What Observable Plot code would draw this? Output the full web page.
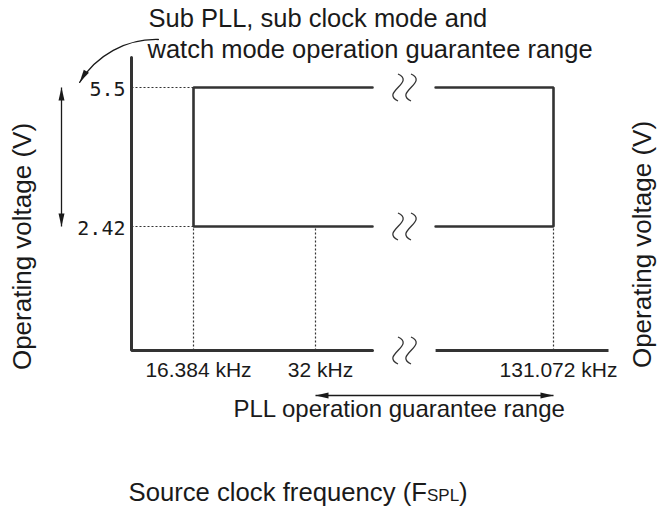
<!DOCTYPE html>
<html>
<head>
<meta charset="utf-8">
<script src="https://cdn.jsdelivr.net/npm/d3@7"></script>
<script src="https://cdn.jsdelivr.net/npm/@observablehq/plot@0.6"></script>
<style>
  html, body { margin: 0; padding: 0; background: #fff; }
  svg { display: block; }
</style>
</head>
<body>
<div id="chart"></div>
<script>
// ---- Data (frequencies in kHz, voltages in V) ----
const xTicks = [16.384, 32, 131.072];
const xTickLabels = ["16.384 kHz", "32 kHz", "131.072 kHz"];
const yTicks = [5.5, 2.42];
const yTickLabels = ["5.5", "2.42"];
const subLow = 16.384;      // sub PLL / sub clock lower limit
const pllLow = 32;          // PLL lower limit
const high = 131.072;       // upper limit
const vMin = 2.42;
const vMax = 5.5;
const axisEndFreq = 150;    // end of the (broken) frequency axis
const axisTopV = 6.2;       // top of the voltage axis
const breakFreq = 64;       // where the axis break sits
const breakGap = [52.5, 78];
const breakLevels = [0, vMin, vMax];

// Broken (piecewise) scales
const xDomain = [0, subLow, pllLow, breakFreq, high, axisEndFreq];
const xRange = [131, 193, 315, 404, 553, 608];
const yDomain = [0, vMin, vMax, axisTopV];
const yRange = [350, 226, 87, 57];

// Annotation anchor points (data units)
const subArrow = [{x1: 7.1, y1: 6.62, x2: -13.7, y2: 5.62}];

// ---- derived tables ----
const axisPath = [
  {f: 0, v: axisTopV}, {f: 0, v: 0}, {f: breakGap[0], v: 0}
];
const axisRight = [{x1: breakGap[1], x2: axisEndFreq, y: 0}];
const rectPath = [
  {part: "L", f: breakGap[0], v: vMax}, {part: "L", f: subLow, v: vMax},
  {part: "L", f: subLow, v: vMin}, {part: "L", f: breakGap[0], v: vMin},
  {part: "R", f: breakGap[1], v: vMax}, {part: "R", f: high, v: vMax},
  {part: "R", f: high, v: vMin}, {part: "R", f: breakGap[1], v: vMin}
];
const dottedH = yTicks.map(v => ({x1: 0, x2: subLow, y: v}));
const dottedV = xTicks.map(f => ({x: f, y1: 0, y2: vMin}));

// custom symbols
const breakSymbol = {
  draw(ctx, size) {
    const k = Math.sqrt(size / Math.PI) / 13.5;
    for (const ox of [-6.5, 6.5]) {
      ctx.moveTo(ox * k, -13.5 * k);
      ctx.bezierCurveTo((ox + 18) * k, -5 * k, (ox - 18) * k, 5 * k, ox * k, 13.5 * k);
    }
  }
};
const headSymbol = {
  draw(ctx, size) {
    const k = Math.sqrt(size / Math.PI) / 13;
    ctx.moveTo(0, 0);
    ctx.lineTo(-3 * k, 13 * k);
    ctx.lineTo(3 * k, 13 * k);
    ctx.closePath();
  }
};

const LINE = "#333";
const INK = "#1a1a1a";
const SANS = "Liberation Sans, Arial, Helvetica, sans-serif";
const MONO = "DejaVu Sans Mono, monospace";

const chart = Plot.plot({
  width: 658,
  height: 511,
  marginTop: 0, marginRight: 0, marginBottom: 0, marginLeft: 0,
  style: {background: "#fff", fontFamily: SANS},
  x: {type: "linear", domain: xDomain, range: xRange, axis: null},
  y: {type: "linear", domain: yDomain, range: yRange, axis: null},
  marks: [
    // dotted guide lines
    Plot.link(dottedH, {x1: "x1", x2: "x2", y1: "y", y2: "y", stroke: LINE, strokeWidth: 1.2, strokeDasharray: "2,2"}),
    Plot.link(dottedV, {x1: "x", x2: "x", y1: "y1", y2: "y2", stroke: LINE, strokeWidth: 1.2, strokeDasharray: "2,2"}),
    // axes
    Plot.line(axisPath, {x: "f", y: "v", stroke: LINE, strokeWidth: 3, strokeLinejoin: "miter"}),
    Plot.link(axisRight, {x1: "x1", x2: "x2", y1: "y", y2: "y", stroke: LINE, strokeWidth: 3}),
    // operation range rectangle (broken)
    Plot.line(rectPath, {x: "f", y: "v", z: "part", stroke: LINE, strokeWidth: 2.6, strokeLinejoin: "miter"}),
    // break marks
    Plot.dot(breakLevels, {x: () => breakFreq, y: d => d, symbol: breakSymbol, r: 13.5, fill: "none", stroke: LINE, strokeWidth: 1.3}),
    // y tick labels
    Plot.text(yTicks, {x: () => 0, y: d => d, text: (d, i) => yTickLabels[i], textAnchor: "end", dx: -6, dy: 2.5, fontFamily: MONO, fontSize: 20, fill: INK}),
    // x tick labels
    Plot.text(xTicks, {x: d => d, y: () => 0, text: (d, i) => xTickLabels[i], textAnchor: "middle", lineAnchor: "bottom", dx: 5, dy: 26, fontSize: 21, fill: INK}),
    // vertical double arrow (voltage range)
    Plot.link([{y1: vMax, y2: vMin}], {x1: () => 0, x2: () => 0, y1: "y1", y2: "y2", dx: -70, stroke: INK, strokeWidth: 1.3}),
    Plot.dot([{v: vMax, r: 0}, {v: vMin, r: 180}], {x: () => 0, y: "v", rotate: "r", dx: -70, symbol: headSymbol, r: 13, fill: INK, stroke: "none"}),
    // horizontal double arrow (PLL range)
    Plot.link([{x1: pllLow, x2: high}], {x1: "x1", x2: "x2", y1: () => 0, y2: () => 0, dy: 45, stroke: INK, strokeWidth: 1.3}),
    Plot.dot([{f: pllLow, r: -90}, {f: high, r: 90}], {x: "f", y: () => 0, rotate: "r", dy: 45, symbol: headSymbol, r: 13, fill: INK, stroke: "none"}),
    Plot.text(["PLL operation guarantee range"], {x: () => pllLow, y: () => 0, text: d => d, textAnchor: "start", lineAnchor: "bottom", dx: -82, dy: 66, fontSize: 24, fill: INK}),
    // curved arrow for the sub PLL range
    Plot.arrow(subArrow, {x1: "x1", y1: "y1", x2: "x2", y2: "y2", bend: -30, headLength: 0, stroke: INK, strokeWidth: 1.3}),
    Plot.dot(subArrow, {x: "x2", y: "y2", rotate: -149, symbol: headSymbol, r: 13, fill: INK, stroke: "none"}),
    Plot.text(["Sub PLL, sub clock mode and"], {x: () => 0, y: () => axisTopV, text: d => d, textAnchor: "start", lineAnchor: "bottom", dx: 17, dy: -30.3, fontSize: 25.5, fill: INK}),
    Plot.text(["watch mode operation guarantee range"], {x: () => 0, y: () => axisTopV, text: d => d, textAnchor: "start", lineAnchor: "bottom", dx: 16, dy: 0.5, fontSize: 25.5, fill: INK}),
    // axis titles
    Plot.text(["Operating voltage (V)"], {frameAnchor: "left", text: d => d, rotate: -90, textAnchor: "middle", lineAnchor: "middle", dx: 22, dy: -9.5, fontSize: 26, fill: INK}),
    Plot.text(["Operating voltage (V)"], {frameAnchor: "right", text: d => d, rotate: -90, textAnchor: "middle", lineAnchor: "middle", dx: -16.3, dy: -11.5, fontSize: 26, fill: INK}),
    Plot.text(["Source clock frequency (F"], {x: () => 0, y: () => 0, text: d => d, textAnchor: "start", lineAnchor: "bottom", dx: -3, dy: 150, fontSize: 25.7, fill: INK}),
    Plot.text(["SPL"], {x: () => 0, y: () => 0, text: d => d, textAnchor: "start", lineAnchor: "bottom", dx: 295.5, dy: 150, fontSize: 17, fill: INK}),
    Plot.text([")"], {x: () => 0, y: () => 0, text: d => d, textAnchor: "end", lineAnchor: "bottom", dx: 336, dy: 150, fontSize: 25.7, fill: INK})
  ]
});

document.getElementById("chart").appendChild(chart);
</script>
</body>
</html>
